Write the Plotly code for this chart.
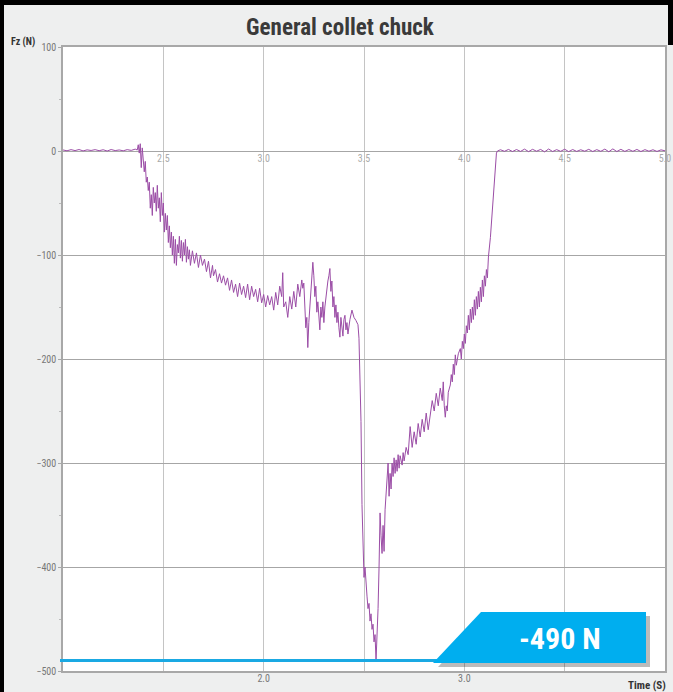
import plotly.graph_objects as go

# ---------------- data ----------------
title_text = "General collet chuck"
y_axis_title = "Fz (N)"
x_axis_title = "Time (S)"
peak_force = -490
peak_label = "-490 N"

y_ticks = [100, 0, -100, -200, -300, -400, -500]
top_tick_vals = [2.5, 3.0, 3.5, 4.0, 4.5, 5.0]
top_tick_text = ["2.5", "3.0", "3.5", "4.0", "4.5", "5.0"]
bottom_tick_vals = [2.0, 3.0]
bottom_tick_text = ["2.0", "3.0"]

idle_start_time = [2.00, 2.02, 2.04, 2.06, 2.08, 2.10, 2.12, 2.14, 2.16, 2.18,
                   2.20, 2.22, 2.24, 2.26, 2.28, 2.30, 2.32, 2.34, 2.36]
idle_start_force = [1.0, 0.2, 1.3, 0.4, 1.4, 0.1, 1.1, 0.5, 1.3, 0.3,
                    1.2, 0.0, 1.4, 0.4, 1.0, 0.2, 1.3, 0.6, 1.8]

cut_time = [2.370, 2.375, 2.380, 2.385, 2.390, 2.395, 2.400, 2.405, 2.410, 2.415,
            2.420, 2.425, 2.430, 2.435, 2.440, 2.445, 2.450, 2.455, 2.460, 2.465,
            2.470, 2.475, 2.480, 2.485, 2.490, 2.495, 2.500, 2.505, 2.510, 2.515,
            2.520, 2.525, 2.530, 2.535, 2.540, 2.545, 2.550, 2.555, 2.560, 2.565,
            2.570, 2.575, 2.580, 2.585, 2.590, 2.595, 2.600, 2.605, 2.610, 2.615,
            2.620, 2.625, 2.630, 2.635, 2.645, 2.655, 2.665, 2.675, 2.685, 2.695,
            2.705, 2.715, 2.725, 2.735, 2.745, 2.750, 2.760, 2.770, 2.780, 2.790,
            2.800, 2.810, 2.820, 2.830, 2.840, 2.850, 2.860, 2.870, 2.880, 2.890,
            2.900, 2.910, 2.920, 2.930, 2.940, 2.950, 2.960, 2.970, 2.980, 2.990,
            3.000, 3.010, 3.020, 3.030, 3.040, 3.050, 3.060, 3.070, 3.080, 3.090,
            3.095, 3.100, 3.110, 3.120, 3.130, 3.140, 3.150, 3.160, 3.170, 3.180,
            3.190, 3.195, 3.200, 3.205, 3.210, 3.215, 3.220, 3.225, 3.230, 3.235,
            3.240, 3.245, 3.250, 3.255, 3.260, 3.265, 3.270, 3.275, 3.280, 3.285,
            3.290, 3.295, 3.300, 3.305, 3.310, 3.315, 3.320, 3.325, 3.330, 3.335,
            3.340, 3.345, 3.350, 3.355, 3.360, 3.365, 3.370, 3.375, 3.380, 3.385,
            3.390, 3.395, 3.400, 3.405, 3.410, 3.415, 3.420, 3.425, 3.430, 3.440,
            3.450, 3.460, 3.470, 3.475, 3.480, 3.485, 3.490, 3.495, 3.500, 3.505,
            3.510, 3.515, 3.520, 3.525, 3.530, 3.535, 3.540, 3.545, 3.550, 3.555,
            3.560, 3.565, 3.570, 3.575, 3.580, 3.585, 3.590, 3.595, 3.600, 3.605,
            3.610, 3.615, 3.620, 3.625, 3.630, 3.635, 3.640, 3.645, 3.650, 3.655,
            3.660, 3.665, 3.670, 3.675, 3.680, 3.690, 3.695, 3.700, 3.710, 3.720,
            3.730, 3.740, 3.750, 3.760, 3.770, 3.780, 3.790, 3.800, 3.810, 3.820,
            3.830, 3.840, 3.850, 3.860, 3.870, 3.880, 3.890, 3.895, 3.900, 3.905,
            3.910, 3.915, 3.920, 3.930, 3.935, 3.940, 3.945, 3.950, 3.955, 3.960,
            3.970, 3.980, 3.985, 3.990, 3.995, 4.000, 4.005, 4.010, 4.015, 4.020,
            4.025, 4.030, 4.035, 4.040, 4.045, 4.050, 4.055, 4.060, 4.065, 4.070,
            4.075, 4.080, 4.085, 4.090, 4.095, 4.100, 4.105, 4.110, 4.115, 4.120,
            4.130, 4.140, 4.150, 4.160, 4.165]
cut_force = [1, 6, -2, 7, -16, 3, -8, -20, -10, -30,
             -25, -38, -30, -55, -42, -62, -35, -50, -40, -58,
             -33, -55, -45, -68, -40, -62, -50, -78, -60, -76,
             -62, -88, -72, -93, -78, -100, -82, -108, -85, -110,
             -90, -98, -82, -103, -86, -106, -88, -100, -85, -107,
             -92, -104, -95, -110, -96, -108, -98, -112, -100, -110,
             -104, -116, -106, -122, -110, -120, -114, -126, -118, -127,
             -120, -129, -122, -134, -124, -136, -128, -140, -127, -138,
             -130, -141, -128, -143, -130, -140, -133, -145, -132, -146,
             -138, -150, -139, -148, -140, -153, -136, -148, -130, -140,
             -117, -150, -145, -160, -140, -152, -135, -150, -128, -140,
             -124, -132, -127, -150, -170, -160, -189, -165, -150, -130,
             -115, -107, -120, -140, -130, -155, -145, -165, -172, -150,
             -160, -145, -165, -150, -140, -130, -125, -120, -113, -135,
             -125, -150, -140, -160, -148, -165, -155, -170, -179, -160,
             -170, -178, -162, -158, -172, -165, -176, -168, -162, -153,
             -160, -163, -167, -180, -215, -260, -340, -395, -410, -400,
             -420, -428, -440, -435, -452, -445, -460, -455, -472, -465,
             -490, -470, -440, -400, -348, -370, -387, -360, -385, -345,
             -330, -318, -300, -332, -310, -325, -300, -313, -295, -310,
             -297, -308, -292, -305, -293, -302, -290, -298, -285, -292,
             -265, -285, -270, -282, -262, -275, -258, -270, -252, -268,
             -255, -240, -250, -233, -245, -228, -240, -222, -245, -256,
             -245, -250, -232, -225, -215, -222, -205, -215, -196, -206,
             -195, -190, -200, -183, -190, -176, -185, -168, -175, -158,
             -172, -152, -165, -150, -162, -143, -158, -140, -152, -135,
             -150, -131, -145, -124, -140, -120, -130, -114, -122, -102,
             -83, -54, -21, -2, 0]

idle_end_time = [4.18, 4.20, 4.22, 4.24, 4.26, 4.28, 4.30, 4.32, 4.34, 4.36,
                 4.38, 4.40, 4.42, 4.44, 4.46, 4.48, 4.50, 4.52, 4.54, 4.56,
                 4.58, 4.60, 4.62, 4.64, 4.66, 4.68, 4.70, 4.72, 4.74, 4.76,
                 4.78, 4.80, 4.82, 4.84, 4.86, 4.88, 4.90, 4.92, 4.94, 4.96,
                 4.98, 5.00]
idle_end_force = [1.2, -0.3, 1.5, -0.5, 1.4, -0.4, 1.8, -0.6, 1.6, -0.2,
                  1.5, -0.8, 1.9, -0.5, 1.3, -0.3, 1.7, -0.6, 1.4, -0.4,
                  1.2, -0.2, 1.6, -0.5, 1.3, -0.3, 1.8, -0.7, 2.0, -0.5,
                  1.6, -0.4, 1.4, -0.3, 1.5, -0.5, 1.3, -0.2, 1.2, -0.4,
                  1.1, 0.2]

# ---------------- figure ----------------
W, H = 673, 692
L, R, T, B = 63, 8, 47, 21
PW, PH = W - L - R, H - T - B


def px(x):
    return (x - L) / PW


def py(y):
    return (H - B - y) / PH


time_all = idle_start_time + cut_time + idle_end_time
force_all = idle_start_force + cut_force + idle_end_force

FONT = "Liberation Sans Narrow, Roboto Condensed, DejaVu Sans Condensed, Arial Narrow, sans-serif"

fig = go.Figure()
fig.add_trace(go.Scatter(x=time_all, y=force_all, mode="lines",
                         line=dict(color="#9b4da6", width=1),
                         hoverinfo="skip", showlegend=False))
# dummy traces to activate secondary x axes
fig.add_trace(go.Scatter(x=[2.5], y=[None], xaxis="x2", showlegend=False, hoverinfo="skip"))
fig.add_trace(go.Scatter(x=[2.0], y=[None], xaxis="x3", showlegend=False, hoverinfo="skip"))

fig.update_layout(
    width=W, height=H,
    margin=dict(l=L, r=R, t=T, b=B, autoexpand=False),
    paper_bgcolor="#eeefef",
    plot_bgcolor="#ffffff",
    font=dict(family=FONT, color="#666"),
    title=dict(text=title_text, x=(340 / W), xanchor="center", y=1 - 27 / H, yanchor="middle",
               font=dict(size=23, color="#3a3a3a", family=FONT, weight="bold")),
    xaxis=dict(range=[2.0, 5.0], tick0=2.0, dtick=0.5, showticklabels=False,
               showgrid=True, gridcolor="#c4c4c4", gridwidth=1,
               showline=True, linecolor="#a8a8a8", linewidth=1.5, mirror=True,
               zeroline=False, ticks="", automargin=False),
    xaxis2=dict(range=[2.0, 5.0], overlaying="x", anchor="free", position=py(151),
                side="bottom", tickvals=top_tick_vals, ticktext=top_tick_text,
                showgrid=False, showline=False, zeroline=False, ticks="", automargin=False,
                tickfont=dict(size=10, color="#aaaaaa", family=FONT)),
    xaxis3=dict(range=[1.0, 4.0], overlaying="x", anchor="y", side="bottom",
                tickvals=bottom_tick_vals, ticktext=bottom_tick_text,
                showgrid=False, showline=False, zeroline=False, ticks="", automargin=False,
                tickfont=dict(size=10, color="#777", family=FONT)),
    yaxis=dict(range=[-500, 100], tickvals=y_ticks, automargin=False,
               showgrid=True, gridcolor="#a6a6a6", gridwidth=1.3,
               showline=True, linecolor="#a8a8a8", linewidth=1.5, mirror=True,
               zeroline=False, ticks="outside", ticklen=3, tickcolor="#a8a8a8",
               minor=dict(dtick=50, ticks="outside", ticklen=2, tickcolor="#bbbbbb", showgrid=False),
               tickfont=dict(size=10, color="#777", family=FONT)),
)

shapes = []
# black frame edges of the photo
shapes.append(dict(type="rect", xref="paper", yref="paper", x0=px(0), x1=px(4), y0=py(H), y1=py(0),
                   fillcolor="#000", line=dict(width=0), layer="above"))
shapes.append(dict(type="rect", xref="paper", yref="paper", x0=px(0), x1=px(W), y0=py(5), y1=py(0),
                   fillcolor="#000", line=dict(width=0), layer="above"))
shapes.append(dict(type="rect", xref="paper", yref="paper", x0=px(668), x1=px(W), y0=py(45), y1=py(0),
                   fillcolor="#000", line=dict(width=0), layer="above"))
# peak line
shapes.append(dict(type="line", xref="paper", yref="y", x0=px(60), x1=px(440),
                   y0=peak_force, y1=peak_force, line=dict(color="#1aa9e3", width=3), layer="above"))
# badge shadow
shadow_path = "M {x0},{y0} L {x1},{y1} L {x2},{y1} L {x2},{y0} Z".format(
    x0=px(438), y0=py(667), x1=px(485), y1=py(616), x2=px(650))
shapes.append(dict(type="path", xref="paper", yref="paper", path=shadow_path,
                   fillcolor="rgba(60,60,60,0.35)", line=dict(width=0), layer="above"))
# badge
badge_path = "M {x0},{y0} L {x1},{y1} L {x2},{y1} L {x2},{y0} Z".format(
    x0=px(433), y0=py(663), x1=px(481), y1=py(612), x2=px(646))
shapes.append(dict(type="path", xref="paper", yref="paper", path=badge_path,
                   fillcolor="#00aeef", line=dict(width=0), layer="above"))
fig.update_layout(shapes=shapes)

fig.add_annotation(text=peak_label, xref="paper", yref="paper", x=px(560), y=py(638),
                   showarrow=False, xanchor="center", yanchor="middle",
                   font=dict(size=30, color="#ffffff", family=FONT, weight="bold"))
fig.add_annotation(text=y_axis_title, xref="paper", yref="paper", x=px(23), y=py(42),
                   showarrow=False, xanchor="center", yanchor="middle",
                   font=dict(size=10, color="#333", family=FONT, weight="bold"))
fig.add_annotation(text=x_axis_title, xref="paper", yref="paper", x=px(647), y=py(685),
                   showarrow=False, xanchor="center", yanchor="middle",
                   font=dict(size=11, color="#333", family=FONT, weight="bold"))

fig.write_html("out.html", config={"displayModeBar": False},
               post_script="document.body.style.margin='0';document.body.style.overflow='hidden';")
